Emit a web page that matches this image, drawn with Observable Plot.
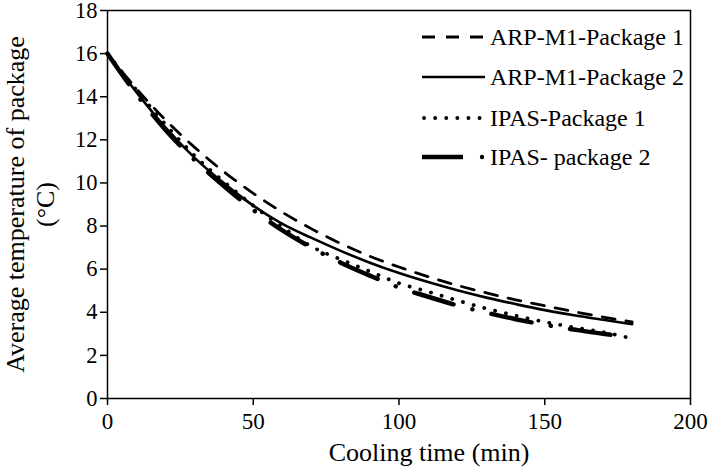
<!DOCTYPE html>
<html>
<head>
<meta charset="utf-8">
<script src="https://cdn.jsdelivr.net/npm/d3@7"></script>
<script src="https://cdn.jsdelivr.net/npm/@observablehq/plot@0.6"></script>
<style>
  html, body { margin: 0; padding: 0; background: white; }
</style>
</head>
<body>
<div id="chart"></div>
<script>
// ---- data ----
const seriesNames = ["ARP-M1-Package 1", "ARP-M1-Package 2", "IPAS-Package 1", "IPAS- package 2"];
const times = [0,10,20,30,40,50,60,70,80,90,100,110,120,130,140,150,160,170,180];
const arpP1 = [16.0,14.36,12.91,11.64,10.51,9.52,8.64,7.87,7.19,6.6,6.1,5.65,5.25,4.9,4.58,4.3,4.03,3.78,3.55];
const arpP2 = [16.0,14.2,12.55,11.15,9.98,8.95,8.1,7.45,6.85,6.3,5.82,5.4,5.02,4.68,4.38,4.1,3.86,3.65,3.45];
const ipasP1 = [16.0,14.3,12.7,11.25,10.05,8.95,7.95,7.05,6.45,5.9,5.35,4.95,4.55,4.17,3.85,3.55,3.3,3.08,2.78];
const times2 = [0,10,20,30,40,50,60,70,80,90,100,110,120,130,140,150,160,170,175];
const ipasP2 = [16.0,14.1,12.45,11.05,9.85,8.75,7.8,7.0,6.3,5.7,5.15,4.72,4.32,3.98,3.68,3.42,3.2,3.0,2.92];
const xTicks = [0,50,100,150,200];
const yTicks = [0,2,4,6,8,10,12,14,16,18];
const xLabel = "Cooling time (min)";
const yLabel = "Average temperature of package\n(°C)";

const d1 = times.map((t,i) => ({t, v: arpP1[i]}));
const d2 = times.map((t,i) => ({t, v: arpP2[i]}));
const d3s = times.map((t,i) => ({t, v: ipasP1[i]}));
const d4 = times2.map((t,i) => ({t, v: ipasP2[i]}));

const font = "Liberation Serif";

const chart = Plot.plot({
  width: 709,
  height: 470,
  marginLeft: 107,
  marginRight: 19,
  marginTop: 10,
  marginBottom: 72,
  style: {background: "white", color: "black"},
  x: {domain: [0, 200]},
  y: {domain: [0, 18]},
  marks: [
    Plot.frame({stroke: "black", strokeWidth: 1.5}),
    Plot.axisY(yTicks, {tickSize: 7, tickPadding: 3, fontSize: 22.5, strokeWidth: 1.5, label: null}),
    Plot.axisX(xTicks, {tickSize: 7, tickPadding: 7, fontSize: 23, strokeWidth: 1.5, label: null}),
    Plot.line(d1, {x: "t", y: "v", curve: "monotone-x", stroke: "black", strokeWidth: 2.8, strokeDasharray: "13,11"}),
    Plot.line(d2, {x: "t", y: "v", curve: "monotone-x", stroke: "black", strokeWidth: 2.6}),
    Plot.line(d3s, {x: "t", y: "v", curve: "monotone-x", stroke: "black", strokeWidth: 3.8, strokeDasharray: "0.1,11", strokeLinecap: "round"}),
    Plot.line(d4, {x: "t", y: "v", curve: "monotone-x", stroke: "black", strokeWidth: 4.5, strokeDasharray: "41,19.5,0.1,19.5", strokeDashoffset: 4, strokeLinecap: "round"}),
    Plot.text([xLabel], {frameAnchor: "bottom", dx: 30, dy: 62, fontSize: 26, fill: "black", textAnchor: "middle"}),
    Plot.text([yLabel], {frameAnchor: "left", dx: -78, rotate: -90, fontSize: 26, lineHeight: 1.15, fill: "black", textAnchor: "middle"})
  ]
});

// legend inside the plot frame (top right)
const svg = d3.select(chart);
const leg = svg.append("g").attr("fill", "black").attr("text-anchor", "start");
const rows = [37, 77, 118, 157];
const styles = [
  {w: 2.8, dash: "13,11", cap: "butt"},
  {w: 2.6, dash: null, cap: "butt"},
  {w: 3.8, dash: "0.1,11", cap: "round"},
  null
];
seriesNames.forEach((name, i) => {
  const y = rows[i];
  if (i < 3) {
    const s = styles[i];
    const ln = leg.append("line").attr("x1", i === 2 ? 424 : 422).attr("x2", 485).attr("y1", y).attr("y2", y)
      .attr("stroke", "black").attr("stroke-width", s.w).attr("stroke-linecap", s.cap);
    if (s.dash) ln.attr("stroke-dasharray", s.dash);
  } else {
    leg.append("line").attr("x1", 422).attr("x2", 463).attr("y1", y).attr("y2", y)
      .attr("stroke", "black").attr("stroke-width", 4.5);
    leg.append("circle").attr("cx", 482).attr("cy", y).attr("r", 2.2).attr("fill", "black");
  }
  leg.append("text").attr("x", 490).attr("y", y + 8).attr("font-size", 24).attr("text-anchor", "start").text(name);
});

// use the serif face everywhere
svg.attr("font-family", font).style("font-family", font);
svg.selectAll("g").attr("font-family", font);
svg.selectAll("text").attr("font-family", font).style("font-family", font);

document.getElementById("chart").appendChild(chart);
</script>
</body>
</html>
